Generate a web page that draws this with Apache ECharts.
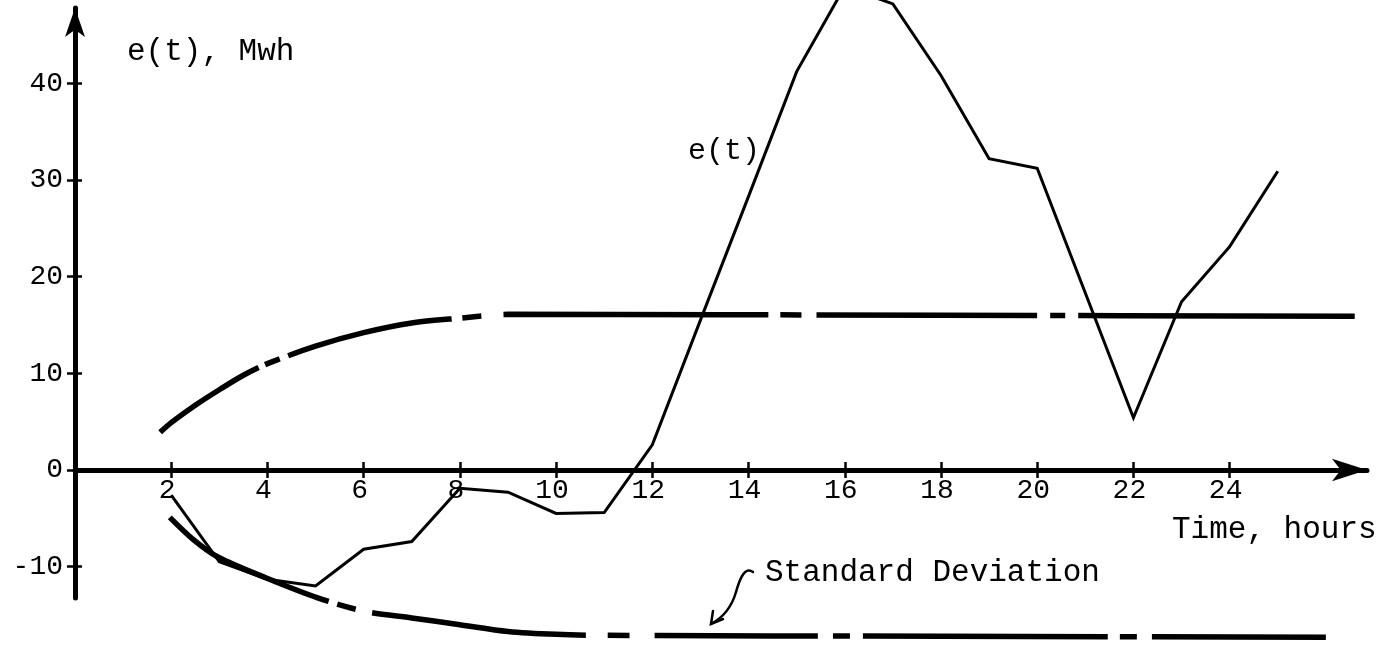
<!DOCTYPE html>
<html>
<head>
<meta charset="utf-8">
<script src="https://cdn.jsdelivr.net/npm/echarts@6/dist/echarts.min.js"></script>
<style>
  html, body { margin: 0; padding: 0; background: #fff; }
  #chart { width: 1385px; height: 645px; }
</style>
</head>
<body>
<div id="chart"></div>
<script>
// Hourly energy deviation e(t), MWh
const hours = [2, 3, 4, 5, 6, 7, 8, 9, 10, 11, 12, 13, 14, 15, 16, 17, 18, 19, 20, 21, 22, 23, 24, 25];
const eValues = [-2.6, -9.5, -11.3, -12.0, -8.2, -7.4, -1.9, -2.3, -4.5, -4.4, 2.6, 15.5, 28.3, 41.2, 50.0, 48.2, 40.8, 32.2, 31.2, 18.3, 5.4, 17.4, 23.1, 30.9];

// Standard deviation envelope (upper and lower)
const sigmaUpperHours = [1.77, 2, 2.5, 3, 3.5, 4, 5, 6, 7, 8, 9, 18, 26.6];
const sigmaUpperValues = [3.9, 4.9, 6.7, 8.3, 9.8, 11.0, 12.8, 14.2, 15.2, 15.7, 16.1, 16.0, 15.9];
const sigmaLowerHours = [1.97, 2.46, 2.97, 3.99, 5.03, 6, 7, 8, 9, 10, 11, 18, 26.0];
const sigmaLowerValues = [-4.9, -7.2, -9.0, -11.2, -13.2, -14.6, -15.3, -16.0, -16.7, -17.0, -17.1, -17.2, -17.3];

// Axis ticks
const xTicks = [2, 4, 6, 8, 10, 12, 14, 16, 18, 20, 22, 24];
const yTicks = [-10, 0, 10, 20, 30, 40];

const pairs = (xs, ys) => xs.map((x, i) => [x, ys[i]]);

const FONT = 'Liberation Mono';
const INK = '#000';

// Hand-drawn dash rhythm of the envelope curves (pixel lengths along the path)
const upperDash = [118, 7, 16, 9, 168, 11, 19, 22, 265, 12, 21, 15, 221, 13, 15, 13, 300];
const lowerDash = [182, 9, 19, 17, 215, 22, 22, 25, 163, 15, 17, 13, 245, 12, 17, 15, 300];

// Plot frame: x from 0 h to the arrow tip, y from the bottom of the axis to its arrow tip
const X_MAX = 26.855;
const Y_MIN = -13.24;
const Y_MAX = 47.78;
const GRID = { left: 75, right: 18, top: 8, bottom: 47 };
const PLOT_W = 1385 - GRID.left - GRID.right;
const PLOT_H = 645 - GRID.top - GRID.bottom;
// pixel distance from the grid edges to the zero lines
const zeroFromBottom = PLOT_H * (0 - Y_MIN) / (Y_MAX - Y_MIN);
const zeroFromTop = PLOT_H - zeroFromBottom;

const chart = echarts.init(document.getElementById('chart'), null, { renderer: 'canvas' });

const tickStyle = { color: INK, width: 2.5 };
const arrowStroke = { stroke: INK, lineWidth: 2.5, fill: null, lineCap: 'round' };

chart.setOption({
  backgroundColor: '#fff',
  animation: false,
  grid: { left: GRID.left, right: GRID.right, top: GRID.top, bottom: GRID.bottom, containLabel: false },
  xAxis: [
    {
      type: 'value', min: 0, max: X_MAX, position: 'bottom', offset: -zeroFromBottom,
      axisLine: {
        onZero: false,
        lineStyle: { color: INK, width: 5 },
        symbol: ['none', 'arrow'], symbolSize: [17, 35]
      },
      axisTick: { show: true, inside: false, length: 8, customValues: xTicks, lineStyle: tickStyle },
      axisLabel: {
        customValues: xTicks, color: INK, fontFamily: FONT, fontSize: 28,
        margin: 7, padding: [0, 8, 0, 0]
      },
      splitLine: { show: false }
    },
    {
      type: 'value', min: 0, max: X_MAX, position: 'top', offset: -zeroFromTop,
      axisLine: { show: false, onZero: false },
      axisTick: { show: true, inside: false, length: 8, customValues: xTicks, lineStyle: tickStyle },
      axisLabel: { show: false },
      splitLine: { show: false }
    }
  ],
  yAxis: [
    {
      type: 'value', min: Y_MIN, max: Y_MAX, position: 'left', offset: 0,
      axisLine: {
        onZero: false,
        lineStyle: { color: INK, width: 5 },
        symbol: ['none', 'arrow'], symbolSize: [15, 29]
      },
      axisTick: { show: true, inside: false, length: 8, customValues: yTicks, lineStyle: tickStyle },
      axisLabel: { customValues: yTicks, color: INK, fontFamily: FONT, fontSize: 28, margin: 12 },
      splitLine: { show: false }
    },
    {
      type: 'value', min: Y_MIN, max: Y_MAX, position: 'right', offset: -PLOT_W,
      axisLine: { show: false, onZero: false },
      axisTick: { show: true, inside: false, length: 7, customValues: yTicks, lineStyle: tickStyle },
      axisLabel: { show: false },
      splitLine: { show: false }
    }
  ],
  series: [
    {
      name: 'e(t)', type: 'line', clip: false, showSymbol: false, smooth: false,
      data: pairs(hours, eValues),
      lineStyle: { color: INK, width: 3, join: 'miter' }
    },
    {
      name: 'Standard Deviation (+)', type: 'line', clip: false, showSymbol: false, smooth: 0.3,
      data: pairs(sigmaUpperHours, sigmaUpperValues),
      lineStyle: { color: INK, width: 5.5, type: upperDash, cap: 'butt' }
    },
    {
      name: 'Standard Deviation (-)', type: 'line', clip: false, showSymbol: false, smooth: 0.3,
      data: pairs(sigmaLowerHours, sigmaLowerValues),
      lineStyle: { color: INK, width: 5.5, type: lowerDash, cap: 'butt' }
    }
  ],
  graphic: [
    {
      type: 'text', left: 127, top: 36,
      style: { text: 'e(t), Mwh', fill: INK, font: '31px "Liberation Mono"' }
    },
    {
      type: 'text', left: 688, top: 136,
      style: { text: 'e(t)', fill: INK, font: '30px "Liberation Mono"' }
    },
    {
      type: 'text', left: 1172, top: 514,
      style: { text: 'Time, hours', fill: INK, font: '31px "Liberation Mono"' }
    },
    {
      type: 'text', left: 765, top: 557,
      style: { text: 'Standard Deviation', fill: INK, font: '31px "Liberation Mono"' }
    },
    {
      type: 'bezierCurve',
      shape: { x1: 753, y1: 572, cpx1: 745, cpy1: 566, cpx2: 740, cpy2: 578, x2: 736, y2: 592 },
      style: arrowStroke
    },
    {
      type: 'bezierCurve',
      shape: { x1: 736, y1: 592, cpx1: 732, cpy1: 606, cpx2: 724, cpy2: 617, x2: 711, y2: 624 },
      style: arrowStroke
    },
    {
      type: 'polyline',
      shape: { points: [[713, 611], [711, 624], [723, 619]] },
      style: arrowStroke
    }
  ]
});
</script>
</body>
</html>
